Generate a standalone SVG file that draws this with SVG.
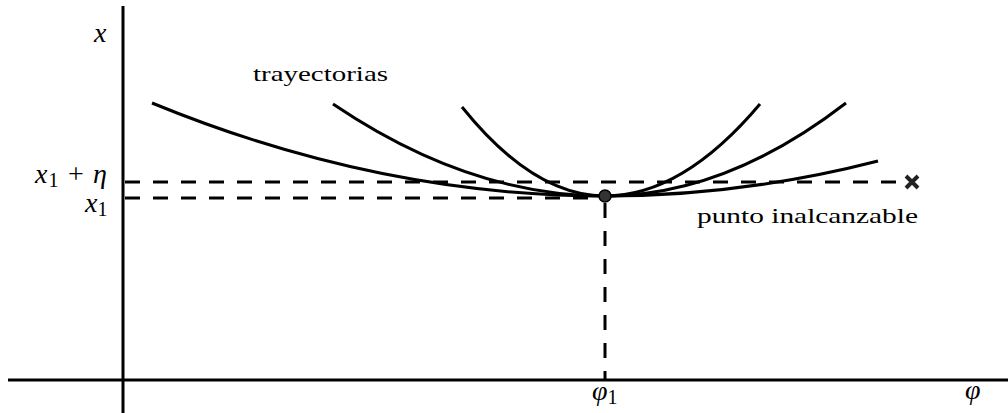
<svg xmlns="http://www.w3.org/2000/svg" width="1008" height="413" viewBox="0 0 1008 413">
<style>
.axis{stroke:#000;stroke-width:3;fill:none}
.dash{stroke:#000;stroke-width:3;stroke-dasharray:15 13;fill:none}
.curve{stroke:#000;stroke-width:3;fill:none}
.t{font-family:'Liberation Serif','Times New Roman',Times,'DejaVu Serif',serif;fill:#000}
.m{font-style:italic}
</style>
<rect width="1008" height="413" fill="#fff"/>
<g id="connectors">
<line class="axis" x1="123" y1="6" x2="123" y2="413"/>
<line class="axis" x1="8" y1="380" x2="1008" y2="380"/>
<line class="dash" x1="125" y1="182" x2="902" y2="182"/>
<line class="dash" x1="125" y1="198" x2="600" y2="198"/>
<line class="dash" x1="605" y1="203" x2="605" y2="380"/>
<path id="curve-shallow" class="curve" d="M152,103 Q378.5,196 605,196 Q741.5,196 878,161"/>
<path id="curve-medium" class="curve" d="M333,104 Q469,196 605,196 Q725.5,196 846,103"/>
<path id="curve-steep" class="curve" d="M462,107 Q533.5,196 605,196 Q682.5,196 760,104"/>
</g>
<g id="point">
<circle cx="605" cy="196" r="6" fill="#333" stroke="#000" stroke-width="1.5"/>
</g>
<g id="unreachable">
<path d="M906,176 L918,188 M918,176 L906,188" stroke="#222" stroke-width="4" fill="none"/>
</g>
<g id="labels">
<text class="t m" x="94" y="42" font-size="28">x</text>
<text class="t" x="253" y="81" font-size="21" textLength="135" lengthAdjust="spacingAndGlyphs">trayectorias</text>
<text class="t m" x="35" y="183" font-size="28" textLength="72" lengthAdjust="spacing">x<tspan font-style="normal" font-size="20" dy="4">1</tspan><tspan font-style="normal" dy="-4"> + </tspan>η</text>
<text class="t m" x="85" y="212" font-size="28">x<tspan font-style="normal" font-size="20" dy="4">1</tspan></text>
<text class="t" x="697" y="223" font-size="21" textLength="221" lengthAdjust="spacingAndGlyphs">punto inalcanzable</text>
<text class="t m" x="592" y="400" font-size="28">φ<tspan font-style="normal" font-size="20" dy="4">1</tspan></text>
<text class="t m" x="965" y="399" font-size="28">φ</text>
</g>
</svg>
